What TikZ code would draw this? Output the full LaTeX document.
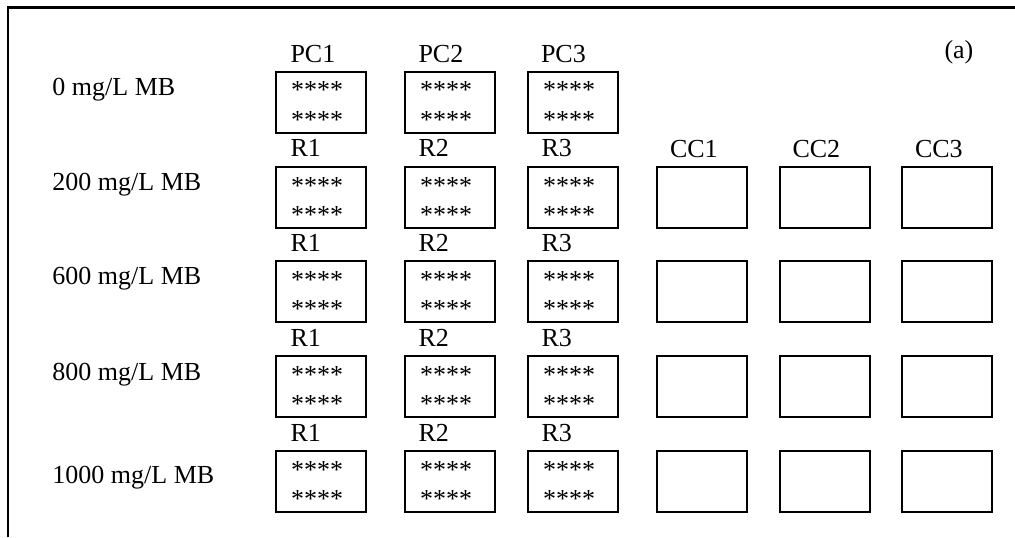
\documentclass[tikz,border=0pt]{standalone}
\usepackage{fontspec}
\setmainfont{Liberation Serif}
\begin{document}
\begin{tikzpicture}[x=0.75pt,y=-0.75pt,
  every node/.style={inner sep=0pt,outer sep=0pt},
  lbl/.style={anchor=base west,font=\fontsize{19.5}{23}\selectfont},
  cell/.style={draw,line width=1.5pt,anchor=north west,minimum width=67.5pt,minimum height=45.75pt},
  frame/.style={line width=2.2pt}]
\useasboundingbox (0,0) rectangle (1015,537);
% frame
\coordinate (fbl) at (8,537);
\coordinate (ftl) at (8,7.3);
\coordinate (ftr) at (1015,7.3);
\draw[frame] (fbl) -- (ftl) -- (ftr);
% panel label
\node[lbl] (panel) at (944.5,58) {(a)};
% row labels
\node[lbl] (row1) at (52.5,95.7) {0 mg/L MB};
\node[lbl] (row2) at (52.5,190) {200 mg/L MB};
\node[lbl] (row3) at (52.5,284) {600 mg/L MB};
\node[lbl] (row4) at (52.5,380) {800 mg/L MB};
\node[lbl] (row5) at (52.5,483) {1000 mg/L MB};
% column labels row 1
\node[lbl] (pc1) at (290.5,62.7) {PC1};
\node[lbl] (pc2) at (418.5,62.7) {PC2};
\node[lbl] (pc3) at (541,62.7) {PC3};
% CC labels
\node[lbl] (cc1) at (670,157.3) {CC1};
\node[lbl] (cc2) at (792.5,157.3) {CC2};
\node[lbl] (cc3) at (915,157.3) {CC3};
% R labels
\foreach \r/\b in {2/156.7,3/251.7,4/346.7,5/441.7}{
  \node[lbl] (r\r-1) at (290.5,\b) {R1};
  \node[lbl] (r\r-2) at (418.5,\b) {R2};
  \node[lbl] (r\r-3) at (541.5,\b) {R3};
}
% boxes with stars (columns 1-3)
\foreach \r/\t in {1/71.7,2/167,3/261,4/356,5/451}{
  \foreach \c/\l in {1/276,2/405,3/528}{
    \node[cell] (b\r-\c) at (\l,\t) {};
    \node[lbl] (s\r-\c-a) at (\l+15,\t+27) {****};
    \node[lbl] (s\r-\c-b) at (\l+15,\t+56.5) {****};
  }
}
% empty CC boxes (rows 2-5)
\foreach \r/\t in {2/167,3/261,4/356,5/451}{
  \foreach \c/\l in {4/657,5/780,6/902}{
    \node[cell] (b\r-\c) at (\l,\t) {};
  }
}
\end{tikzpicture}
\end{document}
